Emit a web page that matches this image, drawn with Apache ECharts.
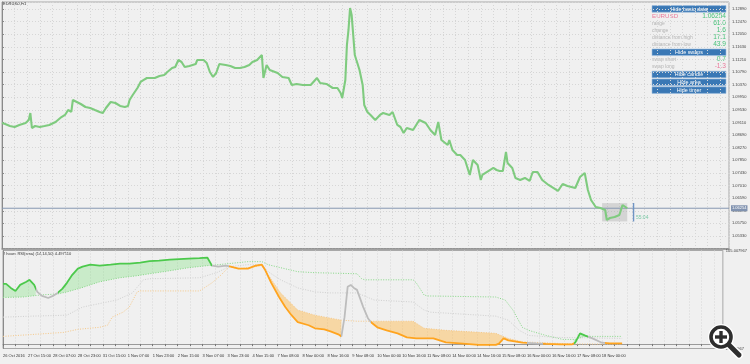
<!DOCTYPE html>
<html><head><meta charset="utf-8">
<script src="https://cdn.jsdelivr.net/npm/echarts@6/dist/echarts.min.js"></script>
<style>html,body{margin:0;padding:0;background:#f0f0f0;}#c{width:750px;height:364px;}</style>
</head><body><div id="c"></div>
<script>
// ---------- DATA ----------
const symbolName = 'EURUSD,H1';
const indicatorName = '2 hours RSI(sma) (14,14,50) 4.497110';
// time labels, one every 16 H1 bars (bar index = 16 * i)
const timeLabels = ['26 Oct 2016','27 Oct 15:00','28 Oct 07:00','28 Oct 23:00','31 Oct 15:00','1 Nov 07:00','1 Nov 23:00','2 Nov 15:00','3 Nov 07:00','3 Nov 23:00','4 Nov 15:00','7 Nov 08:00','8 Nov 00:00','8 Nov 16:00','9 Nov 08:00','10 Nov 00:00','10 Nov 16:00','11 Nov 08:00','14 Nov 00:00','14 Nov 16:00','15 Nov 08:00','16 Nov 00:00','16 Nov 16:00','17 Nov 08:00','18 Nov 00:00'];
const priceAxisMin = 1.04910, priceAxisMax = 1.13123, priceStep = 0.0042;
const rsiAxisMin = -5.007967, rsiAxisMax = 105.007967;
// price path [bar, price]
const price = [[0,1.09093],[2,1.09060],[5,1.08993],[8,1.08960],[11,1.09027],[15,1.09093],[17,1.09193],[18,1.09426],[19,1.08927],[21,1.08993],[24,1.08960],[27,1.08993],[30,1.09027],[34,1.09127],[37,1.09260],[40,1.09360],[42,1.09526],[44,1.09460],[45,1.09859],[46,1.09793],[50,1.09726],[53,1.09626],[56,1.09593],[59,1.09526],[62,1.09460],[64,1.09426],[66,1.09593],[69,1.09793],[72,1.09759],[75,1.09660],[78,1.09626],[80,1.09660],[81,1.09859],[83,1.10026],[86,1.10259],[88,1.10459],[90,1.10526],[92,1.10592],[97,1.10592],[100,1.10659],[103,1.10692],[105,1.10792],[108,1.10925],[110,1.10959],[112,1.11192],[114,1.11125],[116,1.10959],[119,1.10992],[123,1.11058],[124,1.11192],[128,1.11192],[130,1.11092],[132,1.10792],[134,1.10626],[136,1.10759],[138,1.11058],[142,1.11025],[145,1.10992],[148,1.10925],[151,1.10925],[154,1.10959],[157,1.11025],[159,1.11125],[162,1.11192],[165,1.11358],[166,1.10592],[168,1.11025],[170,1.10859],[175,1.10759],[178,1.10626],[182,1.10592],[184,1.10359],[187,1.10393],[191,1.10359],[196,1.10359],[200,1.10592],[202,1.10426],[206,1.10393],[210,1.10259],[213,1.10259],[215,1.10093],[216,1.09926],[218,1.10526],[219,1.11691],[220,1.12191],[221,1.12924],[222,1.12694],[223,1.12024],[224,1.11358],[225,1.11192],[227,1.10859],[229,1.10359],[230,1.09693],[232,1.09460],[234,1.09360],[237,1.09193],[240,1.09360],[242,1.09426],[246,1.09360],[248,1.09460],[251,1.09027],[253,1.08960],[255,1.08760],[257,1.08927],[261,1.08860],[265,1.09193],[269,1.09093],[272,1.08860],[275,1.08694],[277,1.09127],[279,1.08527],[283,1.08361],[284,1.08527],[286,1.08194],[289,1.08028],[291,1.08028],[294,1.07861],[297,1.07362],[299,1.07861],[302,1.07695],[304,1.07195],[305,1.07362],[308,1.07462],[312,1.07595],[314,1.07528],[316,1.07495],[318,1.07495],[320,1.08127],[321,1.07761],[324,1.07595],[326,1.07262],[329,1.07195],[332,1.07262],[335,1.07162],[337,1.07462],[340,1.07462],[343,1.07195],[347,1.07029],[350,1.06929],[353,1.06829],[356,1.07062],[359,1.06995],[364,1.06929],[367,1.07295],[370,1.07428],[372,1.06862],[374,1.06529],[377,1.06296],[380,1.06262],[383,1.06196],[384,1.05863],[386,1.05929],[389,1.05963],[392,1.06029],[394,1.06362],[397,1.06254]];
const lastPrice = 1.06254;
const dayHigh = 1.06425, dayLow = 1.05815, dayStartBar = 381, dayEndBar = 397;
const timerBar = 401, timerText = '55:04', timerLevel = 1.0593;
// indicator lines [bar, value]
const rsiMain = [[0,67.6],[2,67.6],[5,63.0],[8,59.6],[11,66.4],[15,69.9],[17,72.1],[20,66.4],[22,58.5],[25,54.0],[29,51.7],[32,54.0],[35,57.4],[38,61.9],[41,68.7],[44,76.7],[48,84.6],[51,86.9],[56,89.1],[62,88.0],[69,89.1],[75,90.3],[81,90.3],[88,91.4],[94,93.1],[100,93.7],[107,94.8],[113,95.4],[119,95.9],[126,96.5],[131,97.1],[134,88.0],[138,86.9],[143,88.0],[146,86.9],[151,84.6],[157,84.6],[162,88.0],[166,89.1],[168,83.5],[172,68.7],[177,52.8],[181,41.5],[185,32.4],[189,24.5],[196,21.1],[200,17.7],[206,16.5],[210,14.3],[215,10.9],[217,8.6],[219,30.2],[221,64.2],[223,66.4],[225,63.0],[227,60.8],[231,41.5],[234,29.0],[236,24.5],[240,18.8],[246,15.4],[253,12.0],[259,7.5],[265,6.3],[276,6.3],[284,1.8],[295,0.5],[305,-1.0],[316,-1.0],[318,0.5],[321,6.3],[324,4.1],[333,1.5],[342,0.7],[348,0.2],[357,-0.3],[365,-0.3],[367,1.8],[370,12.0],[373,9.7],[378,6.3],[384,1.5],[389,0.7],[397,0.7]];
const rsiUpper = [[0,52.3],[13,52.8],[24,55.1],[35,56.2],[41,58.5],[50,63.0],[62,69.9],[75,74.4],[86,76.7],[94,78.9],[107,82.3],[119,85.7],[131,88.0],[138,89.1],[151,91.4],[157,92.5],[166,92.5],[170,89.1],[178,85.7],[189,81.2],[200,80.1],[227,78.9],[230,73.3],[232,72.1],[263,72.1],[265,68.7],[270,55.1],[272,54.0],[316,52.8],[322,49.4],[327,38.1],[333,18.8],[337,15.4],[348,9.7],[359,5.2],[367,5.2],[373,8.6],[397,8.6]];
const rsiMid = [[0,30.2],[18,31.3],[41,32.4],[51,41.5],[73,49.4],[83,57.4],[90,72.1],[94,73.3],[126,74.4],[137,80.1],[145,86.9],[157,89.1],[166,89.1],[170,81.2],[178,72.1],[189,63.0],[200,58.5],[210,57.4],[227,57.4],[238,49.4],[263,47.2],[270,38.1],[274,35.8],[316,31.3],[324,26.8],[331,15.4],[337,9.7],[354,7.5],[397,6.3]];
const rsiLower = [[0,8.6],[30,12.0],[39,13.1],[48,16.5],[62,18.8],[67,21.1],[70,30.2],[77,35.8],[81,41.5],[86,58.5],[88,59.6],[126,59.6],[134,68.7],[140,77.8],[145,86.9],[151,84.6],[157,85.7],[166,88.0],[178,57.4],[189,38.1],[200,32.4],[217,26.8],[227,25.6],[263,25.6],[270,17.7],[284,15.4],[316,12.0],[324,6.3],[333,2.5],[365,0.0],[397,0.0]];
// state of the main line per bar range: up / flat / down
const mainStates = [[0,21,'up'],[21,35,'flat'],[35,134,'up'],[134,145,'flat'],[145,217,'down'],[217,236,'flat'],[236,336,'down'],[336,346,'flat'],[346,366,'down'],[366,375,'up'],[375,386,'flat'],[386,400,'down']];
const upFills = [[0,21],[35,134],[366,375]];
const downFills = [[145,217],[236,336],[346,366]];
// info panel
const infoRows = [['range','61.0'],['change','1.6'],['distance from high','17.1'],['distance from low','43.9']];
const swapRows = [['swap short','0.7'],['swap long','-1.3']];

// ---------- RENDER ----------
const FONT = 'Liberation Sans, Arial, sans-serif';
const stateColor = {up:'#4cc94c', flat:'#bdbdbd', down:'#ffa41f'};
function interp(arr, x){
  if (x <= arr[0][0]) return arr[0][1];
  for (let i=0;i<arr.length-1;i++){
    if (x>=arr[i][0] && x<=arr[i+1][0]){
      const d = arr[i+1][0]-arr[i][0]; const t = d ? (x-arr[i][0])/d : 0;
      return arr[i][1] + t*(arr[i+1][1]-arr[i][1]);
    }
  }
  return arr[arr.length-1][1];
}
function poly(a,b,band){
  const top = [[a,interp(rsiMain,a)]].concat(rsiMain.filter(p=>p[0]>a&&p[0]<b), [[b,interp(rsiMain,b)]]);
  const bot = [[a,interp(band,a)]].concat(band.filter(p=>p[0]>a&&p[0]<b), [[b,interp(band,b)]]).reverse();
  return top.concat(bot);
}
function fillSeries(ranges, band, color){
  return {type:'custom', xAxisIndex:1, yAxisIndex:1, clip:true, silent:true, z:1,
    data: ranges.map(r=>[r[0], r[1]]), encode:{x:[0,1]},
    renderItem: (params, api) => {
      const r = ranges[params.dataIndex];
      return {type:'polygon', shape:{points: poly(r[0], r[1], band).map(p=>api.coord(p))}, style:{fill:color}};
    }};
}

const chart = echarts.init(document.getElementById('c'), null, {renderer:'canvas'});
const xMax = 461.6;
const gridStyle = {show:true, lineStyle:{color:'#d6d6d6', type:[1,2], width:1}};
const graphics = [];
graphics.push({type:'text', x:3, y:2, style:{text:symbolName, fill:'#333', fontSize:4, fontFamily:FONT}});
graphics.push({type:'text', x:3, y:252, style:{text:indicatorName, fill:'#333', fontSize:4, fontFamily:FONT}});
function button(y, label){
  graphics.push({type:'rect', shape:{x:652, y:y, width:74, height:6.6}, style:{fill:'#3a78b5', stroke:'#9ec0e0', lineWidth:0.6}});
  graphics.push({type:'text', x:689, y:y+3.5, style:{text:label, fill:'#ffffff', fontSize:5.4, fontFamily:FONT, align:'center', verticalAlign:'middle'}});
}
function row(y, label, value, lColor, vColor, lSize){
  graphics.push({type:'text', x:652, y:y, style:{text:label, fill:lColor, fontSize:lSize, fontFamily:FONT, verticalAlign:'middle'}});
  graphics.push({type:'text', x:726, y:y, style:{text:value, fill:vColor, fontSize:6.6, fontFamily:FONT, align:'right', verticalAlign:'middle'}});
}
button(5.6, 'Hide basic data');
row(16, 'EURUSD', lastPrice.toFixed(5), '#e97a9b', '#48c27a', 6.2);
infoRows.forEach((r,i)=>row(23.3+i*7.1, r[0], r[1], '#b4b4b4', '#48c27a', 5));
button(49, 'Hide swaps');
swapRows.forEach((r,i)=>row(59.6+i*7, r[0], r[1], '#b4b4b4', r[1].startsWith('-') ? '#e97a9b' : '#48c27a', 5));
button(71.2, 'Hide candle');
button(79, 'Hide area');
button(86.8, 'Hide timer');
// magnifier overlay
graphics.push({type:'line', shape:{x1:729,y1:345,x2:739,y2:355}, style:{stroke:'#fff', lineWidth:8, lineCap:'round'}, z:100});
graphics.push({type:'circle', shape:{cx:721, cy:337, r:11.5}, style:{fill:'#fff', stroke:'#fff', lineWidth:3}, z:100});
graphics.push({type:'circle', shape:{cx:721, cy:337, r:10}, style:{fill:'#fff', stroke:'#2e2e2e', lineWidth:3.6}, z:101});
graphics.push({type:'line', shape:{x1:729,y1:345,x2:739,y2:355}, style:{stroke:'#2e2e2e', lineWidth:5, lineCap:'round'}, z:101});
graphics.push({type:'rect', shape:{x:715, y:335.3, width:12, height:3.4}, style:{fill:'#2e2e2e'}, z:102});
graphics.push({type:'rect', shape:{x:719.3, y:331, width:3.4, height:12}, style:{fill:'#2e2e2e'}, z:102});

const option = {
  backgroundColor:'#f0f0f0',
  animation:false,
  textStyle:{fontFamily:FONT},
  grid:[
    {left:2, right:21, top:2, height:246.6, show:true, borderColor:'#a8a8a8', borderWidth:1},
    {left:2, right:21, top:250.5, height:98, show:true, borderColor:'#a8a8a8', borderWidth:1}
  ],
  xAxis:[
    {type:'value', gridIndex:0, min:0, max:xMax, interval:8, axisLine:{show:true, lineStyle:{color:'#8a8a8a', width:1.5}}, axisTick:{show:false}, axisLabel:{show:false}, splitLine:gridStyle},
    {type:'value', gridIndex:1, min:0, max:xMax, interval:8, axisLine:{show:true, lineStyle:{color:'#9a9a9a'}}, axisTick:{show:true, length:2, lineStyle:{color:'#777'}},
      axisLabel:{show:true, fontSize:4, color:'#333', align:'left', margin:5, showMaxLabel:false,
        formatter:v=>{const i=Math.round(v/16); return (Math.abs(v-16*i)<0.01 && i<timeLabels.length) ? timeLabels[i] : '';}},
      splitLine:gridStyle}
  ],
  yAxis:[
    {type:'value', gridIndex:0, position:'right', min:priceAxisMin, max:priceAxisMax, interval:priceStep,
      axisLine:{show:true, lineStyle:{color:'#8a8a8a'}}, axisTick:{show:true, length:2, lineStyle:{color:'#888'}},
      axisLabel:{fontSize:4, color:'#444', margin:3, showMinLabel:false, showMaxLabel:false, formatter:v=>v.toFixed(5)},
      splitLine:gridStyle},
    {type:'value', gridIndex:1, position:'right', min:rsiAxisMin, max:rsiAxisMax, interval:rsiAxisMax-rsiAxisMin,
      axisLine:{show:true, lineStyle:{color:'#8a8a8a'}}, axisTick:{show:false},
      axisLabel:{fontSize:4, color:'#444', margin:3, formatter:v=>v.toFixed(6)},
      splitLine:{show:false}}
  ],
  visualMap:[{type:'piecewise', show:false, dimension:0, seriesIndex:7,
    pieces: mainStates.map(s=>({gte:s[0], lt:s[1], color:stateColor[s[2]]}))}],
  series:[
    {type:'line', name:'price', xAxisIndex:0, yAxisIndex:0, data:price, showSymbol:false, lineStyle:{color:'#7fcb7f', width:2.1}, z:3,
      markArea:{silent:true, itemStyle:{color:'rgba(160,160,160,0.35)'}, data:[[{xAxis:dayStartBar, yAxis:dayHigh},{xAxis:dayEndBar, yAxis:dayLow}]]}},
    {type:'line', name:'last', xAxisIndex:0, yAxisIndex:0, data:[[0,lastPrice],[xMax,lastPrice]], showSymbol:false, silent:true,
      lineStyle:{color:'#8798b2', width:1}, z:2,
      endLabel:{show:true, distance:2, formatter:()=>lastPrice.toFixed(5), backgroundColor:'#8193b0', color:'#fff', fontSize:4, padding:[1,1]}},
    {type:'line', xAxisIndex:0, yAxisIndex:0, data:[[timerBar, dayHigh],[timerBar, dayLow]], showSymbol:false, lineStyle:{color:'#6f94c4', width:1.4}, z:3},
    {type:'scatter', xAxisIndex:0, yAxisIndex:0, data:[[timerBar+1.5, timerLevel]], symbolSize:0,
      label:{show:true, position:'right', distance:0, formatter:timerText, color:'#5cbf94', fontSize:5}},
    fillSeries(upFills, rsiUpper, 'rgba(120,225,120,0.33)'),
    fillSeries(downFills, rsiLower, 'rgba(255,185,70,0.45)'),
    {type:'line', xAxisIndex:1, yAxisIndex:1, data:rsiUpper, showSymbol:false, lineStyle:{color:'#86d886', width:1, type:[1,1.5]}, z:2},
    {type:'line', xAxisIndex:1, yAxisIndex:1, data:rsiMain, showSymbol:false, lineStyle:{width:1.8}, z:4},
    {type:'line', xAxisIndex:1, yAxisIndex:1, data:rsiMid, showSymbol:false, lineStyle:{color:'#cfcfcf', width:1, type:[1,1.5]}, z:2},
    {type:'line', xAxisIndex:1, yAxisIndex:1, data:rsiLower, showSymbol:false, lineStyle:{color:'#f6c888', width:1, type:[1,1.5]}, z:2}
  ],
  graphic: graphics
};
chart.setOption(option);
</script></body></html>
